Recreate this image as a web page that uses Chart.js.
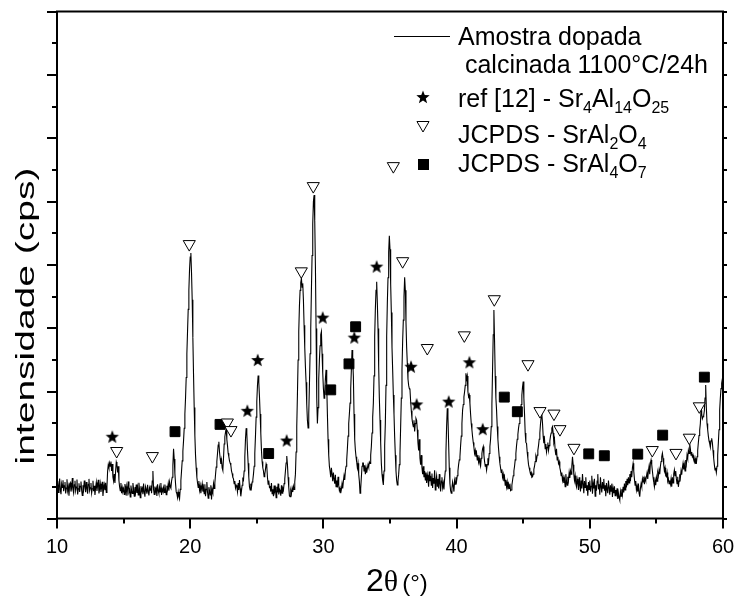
<!DOCTYPE html>
<html>
<head>
<meta charset="utf-8">
<title>DRX - amostra dopada</title>
<script src="https://cdn.jsdelivr.net/npm/chart.js@4.4.1/dist/chart.umd.min.js"></script>
<style>
	html, body { margin: 0; padding: 0; background: #fff; }
	canvas { display: block; }
</style>
</head>
<body>
<canvas id="canvasdrx" width="735" height="605"></canvas>
<script>

// varredura 2theta: inicio e passo
var tetaInicio = 10;
var tetaPasso = 0.05;

// intensidade (cps), uma linha por grau (10..59) + ponto final em 60
var intensidade = [
	95,118,82,104,126, 90,77,110,98,121, 86,103,115,79,96, 124,88,101,72,109,
	113,85,97,128,91, 80,106,119,87,99, 123,76,94,111,84, 102,117,89,73,105,
	92,120,101,83,115, 96,78,108,125,88, 97,112,80,94,119, 86,103,74,98,114,
	87,105,122,79,93, 110,84,99,116,71, 95,107,89,113,82, 100,150,170,160,175,
	165,180,150,172,130, 118,140,112,150,178, 170,145,165,120,100, 88,112,80,98,86,
	94,76,109,85,101, 72,96,117,83,90, 68,104,88,79,112, 93,70,99,84,107,
	81,98,74,113,90, 66,102,87,95,77, 110,84,69,100,91, 78,106,86,73,97,
	89,104,80,118,150, 92,76,101,85,95, 71,108,88,79,99, 84,112,74,93,86,
	98,82,107,91,75, 103,92,110,88,115, 101,96,118,130,168, 220,188,142,110,84,
	78,66,84,70,62, 92,120,150,182,212, 245,285,330,380,445, 520,590,660,720,785,
	825,838,775,690,570, 455,350,262,200,160, 130,112,98,118,90, 104,80,96,110,85,
	97,78,108,70,92, 115,83,64,99,88, 74,105,60,91,82, 110,95,112,138,162,
	180,205,232,242,210, 190,172,185,160,152, 190,235,258,272,285, 250,230,206,195,182,
	175,168,150,142,130, 125,110,118,96,105, 100,84,112,90,121, 95,70,88,105,125,
	121,150,195,250,285, 270,215,174,130,100, 90,110,98,115,121, 140,165,206,260,320,
	370,420,451,430,385, 330,270,215,180,160, 150,132,140,155,172, 165,130,108,120,98,
	100,85,112,78,92, 70,104,86,95,66, 100,82,110,76,93, 88,72,105,80,96,
	90,110,125,150,175, 197,170,130,98,72, 69,88,78,95,84, 102,92,115,140,210,
	290,390,500,590,670, 720,745,758,730,742, 690,610,540,480,430, 360,310,286,330,420,
	520,600,720,830,930, 1000,1021,940,800,600, 380,300,350,440,500, 545,580,590,520,460,
	410,380,400,440,469, 420,330,250,200,165, 150,130,160,140,118, 145,125,110,138,100,
	120,98,132,105,88, 96,80,92,110,95, 118,135,122,150,165, 185,220,260,300,330,
	364,410,470,532,500, 448,330,250,216,195, 178,160,174,140,118, 80,95,130,165,175,
	175,150,168,140,160, 145,158,170,162,178, 174,200,227,270,320, 364,450,574,660,720,
	747,680,600,480,380, 311,240,174,140,120, 106,150,230,300,420, 574,680,760,840,892,
	850,740,650,540,469, 390,330,258,200,150, 120,106,118,140,170, 206,290,380,470,560,
	626,700,761,720,620, 540,490,440,420,410, 406,370,340,315,300, 290,310,275,300,316,
	310,280,238,215,250, 190,170,200,160,140, 165,130,150,122,145, 112,138,125,100,148,
	118,135,105,142,96, 128,110,152,90,120, 135,102,125,95,140, 110,85,118,130,98,
	112,92,125,150,210, 290,348,320,240,160, 110,88,80,96,115, 102,85,120,108,130,
	118,135,150,170,185, 195,230,260,300,342, 360,384,400,420,458, 440,450,400,384,390,
	364,330,300,280,258, 240,225,205,215,195, 206,185,200,178,190, 174,165,190,205,220,
	227,200,180,165,172, 153,170,190,178,205, 227,250,290,360,470, 580,658,560,450,380,
	342,290,250,220,195, 174,160,145,155,130, 140,118,130,105,122, 100,115,92,108,95,
	110,88,90,105,120, 135,150,165,185,205, 230,250,265,285,300, 320,340,360,390,415,
	432,380,330,270,240, 237,210,190,170,160, 150,140,145,130,132, 140,155,165,180,195,
	185,200,215,230,250, 270,300,320,330,300, 260,238,250,220,235, 210,225,240,215,230,
	245,260,270,285,290, 270,240,250,215,200, 220,185,195,174,180, 160,150,135,145,120,
	130,112,125,100,140, 118,105,132,120,145, 128,150,140,165,195, 170,140,120,135,110,
	100,125,112,90,130, 105,85,120,95,140, 110,80,118,98,130, 88,105,72,115,92,
	120,85,102,135,78, 110,95,125,70,105, 88,118,140,92,108, 75,130,100,82,115,
	96,125,88,105,70, 112,92,80,120,98, 75,105,86,110,68, 95,80,102,72,90,
	78,95,62,80,66, 58,85,70,92,75, 100,82,110,90,118, 98,125,105,130,112,
	140,118,150,130,160, 174,150,125,105,118, 90,102,85,110,80, 69,95,110,100,125,
	115,132,108,128,120, 132,145,125,150,165, 140,175,185,170,150, 130,115,100,120,105,
	130,118,145,135,153, 140,165,180,195,206, 190,170,150,160,135, 132,145,118,125,110,
	120,108,125,100,130, 112,140,153,135,150, 125,110,132,100,118, 140,128,150,138,160,
	174,155,170,150,185, 172,200,190,215,205, 237,220,200,210,195, 200,185,178,190,174,
	174,195,215,240,262, 279,300,342,330,315, 321,325,340,380,421, 350,300,280,260,245,
	237,225,245,253,240, 215,190,170,153,160, 145,165,200,238,280, 342,380,410,427,440,
	450
];

// ref [12] - Sr4Al14O25 (estrelas)
var refX = [14.15, 24.29, 25.07, 27.24, 29.95, 32.32, 34.0, 36.58, 37.0, 39.41, 40.96, 41.96];
var refY = [258, 340, 500, 246, 634, 571, 795, 479, 360, 369, 493, 282];

// JCPDS - SrAl2O4 (triangulos abertos)
var sral2o4X = [14.48, 17.16, 19.93, 22.79, 23.06, 28.34, 29.24, 35.25, 35.95, 37.80, 40.58, 42.83,
	45.36, 46.26, 47.31, 47.76, 48.81, 54.69, 56.47, 57.47, 58.22];
var sral2o4Y = [213, 197, 866, 303, 279, 780, 1049, 1112, 812, 538, 578, 692,
	487, 339, 331, 282, 223, 216, 207, 255, 354];

// JCPDS - SrAl4O7 (quadrados cheios)
var sral4o7X = [18.86, 22.24, 25.89, 30.55, 31.92, 32.42, 43.58, 44.56, 49.92, 51.09, 53.60, 55.47, 58.60];
var sral4o7Y = [274, 297, 205, 406, 488, 605, 383, 337, 204, 198, 203, 263, 446];

var xTicks = [10, 20, 30, 40, 50, 60];
var xMinor = [15, 25, 35, 45, 55];
var yTicks = [0, 100, 200, 300, 400, 500, 600, 700, 800, 900, 1000, 1100, 1200, 1300, 1400, 1500, 1600];

var FONTE = "'Liberation Sans', Arial, sans-serif";

function pontos(xs, ys){
	var out = [];
	for (var i = 0; i < xs.length; i++){ out.push({x: xs[i], y: ys[i]}); }
	return out;
}

function estrelaImg(r){
	var c = document.createElement('canvas');
	c.width = 2*r + 2; c.height = 2*r + 2;
	var g = c.getContext('2d');
	g.translate(r + 1, r + 1.5);
	g.beginPath();
	for (var k = 0; k < 10; k++){
		var rr = (k % 2 === 0) ? r : r*0.42;
		var a = -Math.PI/2 + k*Math.PI/5;
		if (k === 0) g.moveTo(rr*Math.cos(a), rr*Math.sin(a));
		else g.lineTo(rr*Math.cos(a), rr*Math.sin(a));
	}
	g.closePath();
	g.fillStyle = '#000';
	g.fill();
	return c;
}

var estrela = estrelaImg(7);

function trianguloDesenho(ctx, x, y, r){
	ctx.beginPath();
	ctx.moveTo(x, y + r);
	ctx.lineTo(x - r*0.866, y - r/2);
	ctx.lineTo(x + r*0.866, y - r/2);
	ctx.closePath();
	ctx.fillStyle = '#fff';
	ctx.fill();
	ctx.lineWidth = 1;
	ctx.strokeStyle = '#000';
	ctx.stroke();
	ctx.fillStyle = '#000';
}

function textoRico(ctx, partes, x, y){
	// partes: [texto, subscrito?]
	ctx.fillStyle = '#000';
	for (var i = 0; i < partes.length; i++){
		var sub = partes[i][1];
		ctx.font = (sub ? '16px ' : '25px ') + FONTE;
		ctx.fillText(partes[i][0], x, sub ? y + 6 : y);
		x += ctx.measureText(partes[i][0]).width;
	}
}

var decoracao = {
	id: 'decoracao',
	afterDraw: function(chart){
		var ctx = chart.ctx, area = chart.chartArea;
		var sx = chart.scales.x, sy = chart.scales.y;
		ctx.save();
		ctx.strokeStyle = '#000';
		ctx.lineWidth = 2;
		ctx.strokeRect(area.left, area.top, area.right - area.left, area.bottom - area.top);

		ctx.beginPath();
		xTicks.concat(xMinor).forEach(function(v){
			var px = Math.round(sx.getPixelForValue(v));
			var len = xTicks.indexOf(v) >= 0 ? 10 : 5;
			ctx.moveTo(px, area.bottom); ctx.lineTo(px, area.bottom + len);
		});
		yTicks.forEach(function(v, k){
			var py = Math.round(sy.getPixelForValue(v));
			var len = (k % 2 === 0) ? 10 : 5;
			ctx.moveTo(area.left, py); ctx.lineTo(area.left - len, py);
			ctx.moveTo(area.right, py); ctx.lineTo(area.right + 4, py);
		});
		ctx.stroke();

		// titulo eixo y (esticado como no original)
		ctx.fillStyle = '#000';
		ctx.save();
		ctx.translate(27, 316);
		ctx.rotate(-Math.PI/2);
		ctx.scale(1.5, 1);
		ctx.font = '26px ' + FONTE;
		ctx.textAlign = 'center';
		ctx.textBaseline = 'middle';
		ctx.fillText('intensidade (cps)', 0, 0);
		ctx.restore();

		// titulo eixo x
		ctx.textBaseline = 'alphabetic';
		ctx.textAlign = 'left';
		var xt = 366;
		ctx.font = '32px ' + FONTE;
		ctx.fillText('2', xt, 591); xt += ctx.measureText('2').width;
		ctx.font = '30px "Liberation Serif", serif';
		ctx.fillText('\u03b8', xt, 591); xt += ctx.measureText('\u03b8').width + 4;
		ctx.font = '24px ' + FONTE;
		ctx.fillText('(\u00b0)', xt, 591);

		// legenda
		ctx.lineWidth = 1;
		ctx.beginPath(); ctx.moveTo(394, 36.5); ctx.lineTo(450, 36.5); ctx.stroke();
		textoRico(ctx, [['Amostra dopada']], 458, 45);
		textoRico(ctx, [[' calcinada 1100\u00b0C/24h']], 458, 73);
		ctx.drawImage(estrela, 423 - estrela.width/2, 97 - estrela.height/2);
		textoRico(ctx, [['ref [12] - Sr'], ['4', 1], ['Al'], ['14', 1], ['O'], ['25', 1]], 458, 107);
		trianguloDesenho(ctx, 423, 125, 7);
		textoRico(ctx, [['JCPDS - SrAl'], ['2', 1], ['O'], ['4', 1]], 458, 143);
		ctx.fillRect(418, 159, 11, 11);
		textoRico(ctx, [['JCPDS - SrAl'], ['4', 1], ['O'], ['7', 1]], 458, 172);
		ctx.restore();
	}
};

function init_chart_drx(){

	if( typeof (Chart) === 'undefined'){ return; }

	var espectro = [];
	for (var i = 0; i < intensidade.length; i++){
		espectro.push({x: +(tetaInicio + i*tetaPasso).toFixed(2), y: intensidade[i]});
	}

	var chart_drx_settings = {
		type: 'line',
		data: {
			datasets: [{
				label: 'Amostra dopada calcinada 1100\u00b0C/24h',
				data: espectro,
				borderColor: '#000',
				borderWidth: 1.1,
				pointRadius: 0,
				tension: 0,
				fill: false,
				order: 3
			}, {
				label: 'ref [12] - Sr4Al14O25',
				data: pontos(refX, refY),
				showLine: false,
				pointStyle: estrela,
				pointRadius: 7,
				order: 0
			}, {
				label: 'JCPDS - SrAl2O4',
				data: pontos(sral2o4X, sral2o4Y),
				showLine: false,
				pointStyle: 'triangle',
				rotation: 180,
				pointRadius: 7,
				pointBorderWidth: 1,
				pointBorderColor: '#000',
				pointBackgroundColor: '#fff',
				order: 1
			}, {
				label: 'JCPDS - SrAl4O7',
				data: pontos(sral4o7X, sral4o7Y),
				showLine: false,
				pointStyle: 'rect',
				pointRadius: 7,
				pointBorderWidth: 1,
				pointBorderColor: '#000',
				pointBackgroundColor: '#000',
				order: 2
			}]
		},
		options: {
			responsive: false,
			animation: false,
			events: [],
			layout: { padding: { top: 11.5, right: 12, left: 0, bottom: 0 } },
			plugins: { legend: { display: false }, tooltip: { enabled: false } },
			scales: {
				x: {
					type: 'linear',
					min: 10, max: 60,
					grid: { display: false, drawTicks: true, tickLength: 17 },
					border: { display: false },
					ticks: {
						stepSize: 10,
						autoSkip: false,
						maxRotation: 0,
						padding: 0,
						color: '#000',
						font: { family: FONTE, size: 20 }
					},
					afterFit: function(s){ s.height = 86.5; }
				},
				y: {
					min: 0, max: 1600,
					grid: { display: false, drawTicks: false },
					border: { display: false },
					ticks: { display: false, stepSize: 100 },
					afterFit: function(s){ s.width = 57; }
				}
			}
		},
		plugins: [decoracao]
	};

	var chart_drx = new Chart(document.getElementById('canvasdrx'), chart_drx_settings);
}

init_chart_drx();
</script>
</body>
</html>
